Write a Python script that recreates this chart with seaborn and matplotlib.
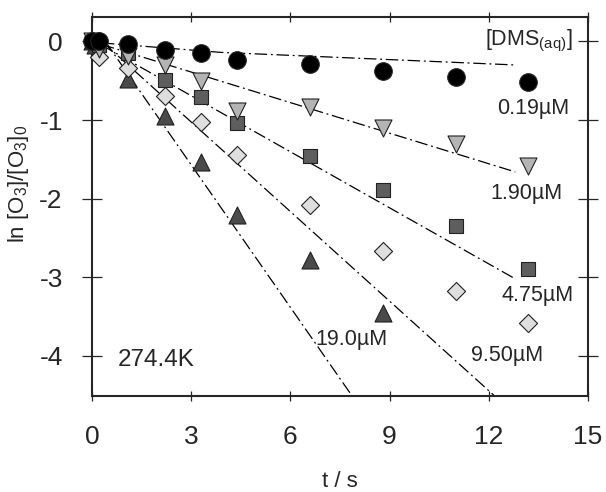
import matplotlib
matplotlib.use("Agg")
import matplotlib.pyplot as plt
import seaborn as sns

# data (t in s, ln[O3]/[O3]0)
t_pts = [0, 0.2, 1.1, 2.2, 3.3, 4.4, 6.6, 8.8, 11.0, 13.2]
y_019 = [0, 0.0, -0.03, -0.11, -0.15, -0.24, -0.29, -0.38, -0.45, -0.52]
y_190 = [0, -0.1, -0.19, -0.30, -0.50, -0.88, -0.84, -1.10, -1.31, -1.58]
y_475 = [0, -0.05, -0.15, -0.49, -0.71, -1.04, -1.46, -1.89, -2.35, -2.90]
y_950 = [0, -0.2, -0.34, -0.70, -1.03, -1.45, -2.08, -2.67, -3.18, -3.58]
t_19 = [0, 0.1, 1.1, 2.2, 3.3, 4.4, 6.6, 8.8]
y_19 = [0, -0.05, -0.48, -0.95, -1.54, -2.21, -2.78, -3.46]

# fitted lines (start / end points)
fit_t = {"0.19": [0.3, 3.9, 12.8], "1.90": [0.3, 12.8], "4.75": [0.3, 12.8],
         "9.50": [0.3, 12.15], "19.0": [0.4, 7.85]}
fit_y = {"0.19": [-0.02, -0.14, -0.30], "1.90": [-0.04, -1.66], "4.75": [-0.05, -3.02],
         "9.50": [0.0, -4.5], "19.0": [0.0, -4.5]}

sns.set_style("ticks")
plt.rcParams["font.family"] = ["Liberation Sans", "DejaVu Sans"]
plt.rcParams["mathtext.fontset"] = "custom"
plt.rcParams["mathtext.rm"] = "Liberation Sans"
plt.rcParams["mathtext.it"] = "Liberation Sans:italic"
plt.rcParams["axes.unicode_minus"] = False

fig = plt.figure(figsize=(6.06, 4.92), dpi=100)
ax = fig.add_axes([92 / 606, 1 - 396 / 492, (588 - 92) / 606, (396 - 17) / 492])

# dash-dot fit lines
for k in fit_t:
    sns.lineplot(x=fit_t[k], y=fit_y[k], ax=ax, color="black", lw=0.9,
                 linestyle=(0, (10, 3, 1.5, 3)), sort=False, estimator=None)

# data points
series = [
    (t_19, y_19, "^", "#4a4a4a", 150),
    (t_pts, y_950, "D", "#dedede", 85),
    (t_pts, y_475, "s", "#5e5e5e", 110),
    (t_pts, y_190, "v", "#b4b4b4", 150),
    (t_pts, y_019, "o", "black", 160),
]
for tx, yy, m, c, s in series:
    sns.scatterplot(x=tx, y=yy, ax=ax, marker=m, color=c, s=s,
                    edgecolor="#222222", linewidth=0.8, clip_on=False, zorder=3)

ax.set_xlim(0, 15)
ax.set_ylim(-4.51, 0.31)
ax.set_xticks([0, 3, 6, 9, 12, 15])
ax.set_yticks([0, -1, -2, -3, -4])

for sp in ax.spines.values():
    sp.set_linewidth(1.5)
    sp.set_visible(True)
ax.tick_params(axis="x", direction="inout", length=7.5, width=0.9, pad=17,
               labelsize=19, top=True, bottom=True)
ax.tick_params(axis="y", direction="inout", length=14, width=0.9, pad=14,
               labelsize=19, left=True, right=True)

ax.set_xlabel("t / s", fontsize=16, labelpad=16)
ax.set_ylabel("ln [O$_3$]/[O$_3$]$_0$", fontsize=16, labelpad=6, y=0.56)

ax.text(14.55, 0.0, r"[DMS$_{\mathrm{(aq)}}$]", fontsize=15.5, ha="right", va="center")
ax.text(14.42, -0.85, "0.19µM", fontsize=15.5, ha="right", va="center")
ax.text(14.24, -1.93, "1.90µM", fontsize=15.5, ha="right", va="center")
ax.text(14.58, -3.23, "4.75µM", fontsize=15.5, ha="right", va="center")
ax.text(13.64, -3.99, "9.50µM", fontsize=15.5, ha="right", va="center")
ax.text(6.76, -3.79, "19.0µM", fontsize=15.5, ha="left", va="center")
ax.text(0.79, -4.05, "274.4K", fontsize=17.5, ha="left", va="center")

fig.savefig("out.png", dpi=100)
